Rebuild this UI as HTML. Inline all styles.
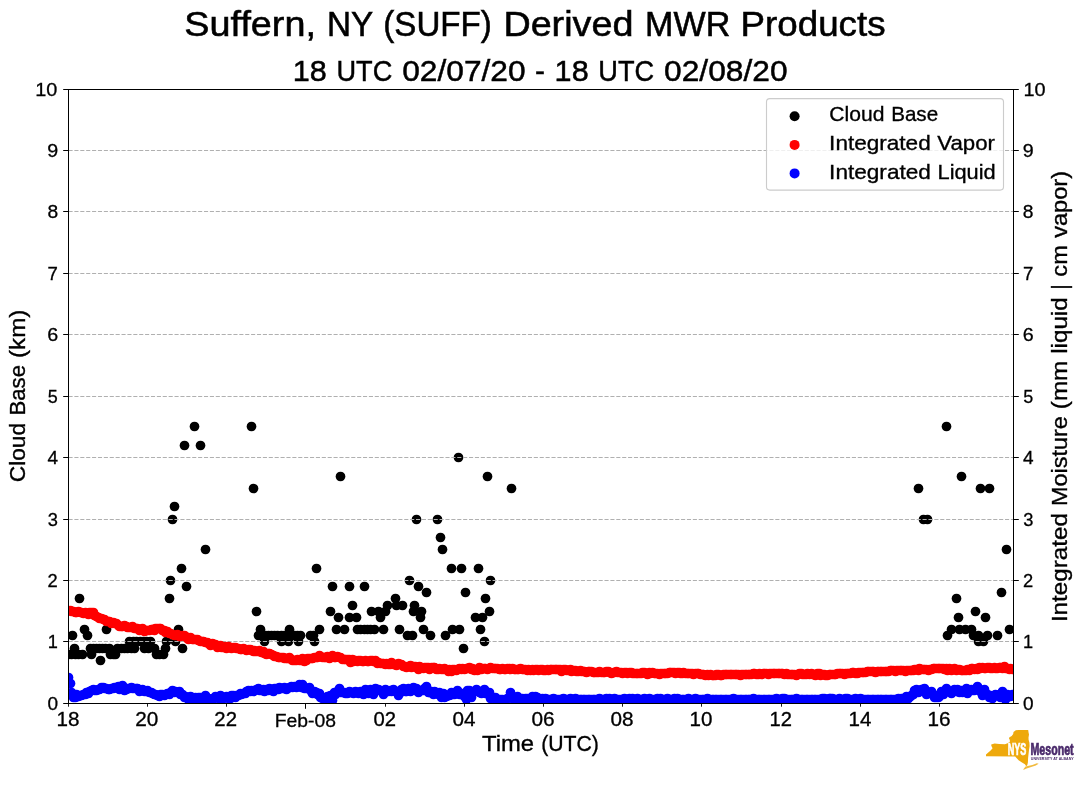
<!DOCTYPE html>
<html lang="en"><head><meta charset="utf-8"><title>Suffern, NY (SUFF) Derived MWR Products</title>
<style>html,body{margin:0;padding:0;background:#fff;}body{width:1089px;height:804px;overflow:hidden;font-family:"Liberation Sans",sans-serif;}svg{display:block;}text{font-family:"Liberation Sans",sans-serif;}</style>
</head><body>
<svg width="1089" height="804" viewBox="0 0 1089 804" style="will-change:transform">
<rect x="0" y="0" width="1089" height="804" fill="#fff"/>
<defs><clipPath id="ax"><rect x="68.5" y="89.5" width="945.0" height="614.0"/></clipPath></defs>
<g clip-path="url(#ax)">
<g fill="#000">
<circle cx="68.5" cy="654.5" r="4.85"/>
<circle cx="71.5" cy="654.5" r="4.85"/>
<circle cx="75.5" cy="654.5" r="4.85"/>
<circle cx="78.5" cy="654.5" r="4.85"/>
<circle cx="82.5" cy="654.5" r="4.85"/>
<circle cx="91.5" cy="654.5" r="4.85"/>
<circle cx="110.5" cy="654.5" r="4.85"/>
<circle cx="113.5" cy="654.5" r="4.85"/>
<circle cx="115.5" cy="654.5" r="4.85"/>
<circle cx="156.5" cy="654.5" r="4.85"/>
<circle cx="159.5" cy="654.5" r="4.85"/>
<circle cx="163.5" cy="654.5" r="4.85"/>
<circle cx="74.5" cy="648.5" r="4.85"/>
<circle cx="90.5" cy="648.5" r="4.85"/>
<circle cx="93.5" cy="648.5" r="4.85"/>
<circle cx="96.5" cy="648.5" r="4.85"/>
<circle cx="99.5" cy="648.5" r="4.85"/>
<circle cx="102.5" cy="648.5" r="4.85"/>
<circle cx="105.5" cy="648.5" r="4.85"/>
<circle cx="109.5" cy="648.5" r="4.85"/>
<circle cx="117.5" cy="648.5" r="4.85"/>
<circle cx="121.5" cy="648.5" r="4.85"/>
<circle cx="124.5" cy="648.5" r="4.85"/>
<circle cx="127.5" cy="648.5" r="4.85"/>
<circle cx="131.5" cy="648.5" r="4.85"/>
<circle cx="134.5" cy="648.5" r="4.85"/>
<circle cx="144.5" cy="648.5" r="4.85"/>
<circle cx="148.5" cy="648.5" r="4.85"/>
<circle cx="154.5" cy="648.5" r="4.85"/>
<circle cx="165.5" cy="648.5" r="4.85"/>
<circle cx="182.5" cy="648.5" r="4.85"/>
<circle cx="129.5" cy="641.5" r="4.85"/>
<circle cx="133.5" cy="641.5" r="4.85"/>
<circle cx="136.5" cy="641.5" r="4.85"/>
<circle cx="140.5" cy="641.5" r="4.85"/>
<circle cx="143.5" cy="641.5" r="4.85"/>
<circle cx="146.5" cy="641.5" r="4.85"/>
<circle cx="150.5" cy="641.5" r="4.85"/>
<circle cx="166.5" cy="641.5" r="4.85"/>
<circle cx="175.5" cy="641.5" r="4.85"/>
<circle cx="100.5" cy="660.5" r="4.85"/>
<circle cx="72.5" cy="635.5" r="4.85"/>
<circle cx="87.5" cy="635.5" r="4.85"/>
<circle cx="84.5" cy="629.5" r="4.85"/>
<circle cx="106.5" cy="629.5" r="4.85"/>
<circle cx="178.5" cy="629.5" r="4.85"/>
<circle cx="79.5" cy="598.5" r="4.85"/>
<circle cx="169.5" cy="598.5" r="4.85"/>
<circle cx="170.5" cy="580.5" r="4.85"/>
<circle cx="172.5" cy="519.5" r="4.85"/>
<circle cx="174.5" cy="506.5" r="4.85"/>
<circle cx="181.5" cy="568.5" r="4.85"/>
<circle cx="184.5" cy="445.5" r="4.85"/>
<circle cx="200.5" cy="445.5" r="4.85"/>
<circle cx="186.5" cy="586.5" r="4.85"/>
<circle cx="194.5" cy="426.5" r="4.85"/>
<circle cx="251.5" cy="426.5" r="4.85"/>
<circle cx="205.5" cy="549.5" r="4.85"/>
<circle cx="253.5" cy="488.5" r="4.85"/>
<circle cx="256.5" cy="611.5" r="4.85"/>
<circle cx="260.5" cy="629.5" r="4.85"/>
<circle cx="289.5" cy="629.5" r="4.85"/>
<circle cx="319.5" cy="629.5" r="4.85"/>
<circle cx="258.5" cy="635.5" r="4.85"/>
<circle cx="261.5" cy="635.5" r="4.85"/>
<circle cx="265.5" cy="635.5" r="4.85"/>
<circle cx="268.5" cy="635.5" r="4.85"/>
<circle cx="271.5" cy="635.5" r="4.85"/>
<circle cx="274.5" cy="635.5" r="4.85"/>
<circle cx="277.5" cy="635.5" r="4.85"/>
<circle cx="281.5" cy="635.5" r="4.85"/>
<circle cx="284.5" cy="635.5" r="4.85"/>
<circle cx="287.5" cy="635.5" r="4.85"/>
<circle cx="290.5" cy="635.5" r="4.85"/>
<circle cx="294.5" cy="635.5" r="4.85"/>
<circle cx="297.5" cy="635.5" r="4.85"/>
<circle cx="300.5" cy="635.5" r="4.85"/>
<circle cx="310.5" cy="635.5" r="4.85"/>
<circle cx="313.5" cy="635.5" r="4.85"/>
<circle cx="264.5" cy="641.5" r="4.85"/>
<circle cx="281.5" cy="641.5" r="4.85"/>
<circle cx="288.5" cy="641.5" r="4.85"/>
<circle cx="298.5" cy="641.5" r="4.85"/>
<circle cx="314.5" cy="641.5" r="4.85"/>
<circle cx="316.5" cy="568.5" r="4.85"/>
<circle cx="332.5" cy="586.5" r="4.85"/>
<circle cx="349.5" cy="586.5" r="4.85"/>
<circle cx="364.5" cy="586.5" r="4.85"/>
<circle cx="418.5" cy="586.5" r="4.85"/>
<circle cx="352.5" cy="605.5" r="4.85"/>
<circle cx="387.5" cy="605.5" r="4.85"/>
<circle cx="396.5" cy="605.5" r="4.85"/>
<circle cx="402.5" cy="605.5" r="4.85"/>
<circle cx="414.5" cy="605.5" r="4.85"/>
<circle cx="330.5" cy="611.5" r="4.85"/>
<circle cx="371.5" cy="611.5" r="4.85"/>
<circle cx="378.5" cy="611.5" r="4.85"/>
<circle cx="385.5" cy="611.5" r="4.85"/>
<circle cx="413.5" cy="611.5" r="4.85"/>
<circle cx="421.5" cy="611.5" r="4.85"/>
<circle cx="489.5" cy="611.5" r="4.85"/>
<circle cx="338.5" cy="617.5" r="4.85"/>
<circle cx="349.5" cy="617.5" r="4.85"/>
<circle cx="356.5" cy="617.5" r="4.85"/>
<circle cx="380.5" cy="617.5" r="4.85"/>
<circle cx="420.5" cy="617.5" r="4.85"/>
<circle cx="475.5" cy="617.5" r="4.85"/>
<circle cx="482.5" cy="617.5" r="4.85"/>
<circle cx="336.5" cy="629.5" r="4.85"/>
<circle cx="344.5" cy="629.5" r="4.85"/>
<circle cx="383.5" cy="629.5" r="4.85"/>
<circle cx="399.5" cy="629.5" r="4.85"/>
<circle cx="423.5" cy="629.5" r="4.85"/>
<circle cx="452.5" cy="629.5" r="4.85"/>
<circle cx="459.5" cy="629.5" r="4.85"/>
<circle cx="480.5" cy="629.5" r="4.85"/>
<circle cx="357.5" cy="629.5" r="4.85"/>
<circle cx="360.5" cy="629.5" r="4.85"/>
<circle cx="364.5" cy="629.5" r="4.85"/>
<circle cx="367.5" cy="629.5" r="4.85"/>
<circle cx="370.5" cy="629.5" r="4.85"/>
<circle cx="374.5" cy="629.5" r="4.85"/>
<circle cx="407.5" cy="635.5" r="4.85"/>
<circle cx="412.5" cy="635.5" r="4.85"/>
<circle cx="430.5" cy="635.5" r="4.85"/>
<circle cx="445.5" cy="635.5" r="4.85"/>
<circle cx="484.5" cy="641.5" r="4.85"/>
<circle cx="463.5" cy="648.5" r="4.85"/>
<circle cx="395.5" cy="598.5" r="4.85"/>
<circle cx="485.5" cy="598.5" r="4.85"/>
<circle cx="426.5" cy="592.5" r="4.85"/>
<circle cx="465.5" cy="592.5" r="4.85"/>
<circle cx="409.5" cy="580.5" r="4.85"/>
<circle cx="490.5" cy="580.5" r="4.85"/>
<circle cx="451.5" cy="568.5" r="4.85"/>
<circle cx="461.5" cy="568.5" r="4.85"/>
<circle cx="478.5" cy="568.5" r="4.85"/>
<circle cx="442.5" cy="549.5" r="4.85"/>
<circle cx="440.5" cy="537.5" r="4.85"/>
<circle cx="416.5" cy="519.5" r="4.85"/>
<circle cx="437.5" cy="519.5" r="4.85"/>
<circle cx="340.5" cy="476.5" r="4.85"/>
<circle cx="487.5" cy="476.5" r="4.85"/>
<circle cx="458.5" cy="457.5" r="4.85"/>
<circle cx="511.5" cy="488.5" r="4.85"/>
<circle cx="946.5" cy="426.5" r="4.85"/>
<circle cx="961.5" cy="476.5" r="4.85"/>
<circle cx="918.5" cy="488.5" r="4.85"/>
<circle cx="980.5" cy="488.5" r="4.85"/>
<circle cx="989.5" cy="488.5" r="4.85"/>
<circle cx="923.5" cy="519.5" r="4.85"/>
<circle cx="927.5" cy="519.5" r="4.85"/>
<circle cx="1006.5" cy="549.5" r="4.85"/>
<circle cx="1001.5" cy="592.5" r="4.85"/>
<circle cx="956.5" cy="598.5" r="4.85"/>
<circle cx="975.5" cy="611.5" r="4.85"/>
<circle cx="958.5" cy="617.5" r="4.85"/>
<circle cx="985.5" cy="617.5" r="4.85"/>
<circle cx="951.5" cy="629.5" r="4.85"/>
<circle cx="959.5" cy="629.5" r="4.85"/>
<circle cx="965.5" cy="629.5" r="4.85"/>
<circle cx="971.5" cy="629.5" r="4.85"/>
<circle cx="1009.5" cy="629.5" r="4.85"/>
<circle cx="947.5" cy="635.5" r="4.85"/>
<circle cx="973.5" cy="635.5" r="4.85"/>
<circle cx="978.5" cy="635.5" r="4.85"/>
<circle cx="987.5" cy="635.5" r="4.85"/>
<circle cx="997.5" cy="635.5" r="4.85"/>
<circle cx="978.5" cy="641.5" r="4.85"/>
<circle cx="983.5" cy="641.5" r="4.85"/>
</g>
<g stroke="#b0b0b0" stroke-width="1" stroke-dasharray="4.11 1.78" fill="none">
<path d="M68.5 641.50H1013.5"/>
<path d="M68.5 580.50H1013.5"/>
<path d="M68.5 519.50H1013.5"/>
<path d="M68.5 457.50H1013.5"/>
<path d="M68.5 396.50H1013.5"/>
<path d="M68.5 334.50H1013.5"/>
<path d="M68.5 273.50H1013.5"/>
<path d="M68.5 211.50H1013.5"/>
<path d="M68.5 150.50H1013.5"/>
</g>
<g fill="#f00">
<circle cx="68.5" cy="610.5" r="4.85"/>
<circle cx="70.5" cy="610.5" r="4.85"/>
<circle cx="71.5" cy="611.5" r="4.85"/>
<circle cx="73.5" cy="611.5" r="4.85"/>
<circle cx="75.5" cy="612.5" r="4.85"/>
<circle cx="76.5" cy="612.5" r="4.85"/>
<circle cx="78.5" cy="611.5" r="4.85"/>
<circle cx="80.5" cy="612.5" r="4.85"/>
<circle cx="81.5" cy="612.5" r="4.85"/>
<circle cx="83.5" cy="613.5" r="4.85"/>
<circle cx="85.5" cy="612.5" r="4.85"/>
<circle cx="86.5" cy="613.5" r="4.85"/>
<circle cx="88.5" cy="614.5" r="4.85"/>
<circle cx="89.5" cy="612.5" r="4.85"/>
<circle cx="91.5" cy="612.5" r="4.85"/>
<circle cx="93.5" cy="612.5" r="4.85"/>
<circle cx="94.5" cy="615.5" r="4.85"/>
<circle cx="96.5" cy="616.5" r="4.85"/>
<circle cx="98.5" cy="617.5" r="4.85"/>
<circle cx="99.5" cy="618.5" r="4.85"/>
<circle cx="101.5" cy="618.5" r="4.85"/>
<circle cx="103.5" cy="619.5" r="4.85"/>
<circle cx="104.5" cy="619.5" r="4.85"/>
<circle cx="106.5" cy="621.5" r="4.85"/>
<circle cx="108.5" cy="621.5" r="4.85"/>
<circle cx="109.5" cy="621.5" r="4.85"/>
<circle cx="111.5" cy="623.5" r="4.85"/>
<circle cx="113.5" cy="622.5" r="4.85"/>
<circle cx="114.5" cy="623.5" r="4.85"/>
<circle cx="116.5" cy="623.5" r="4.85"/>
<circle cx="118.5" cy="625.5" r="4.85"/>
<circle cx="119.5" cy="626.5" r="4.85"/>
<circle cx="121.5" cy="626.5" r="4.85"/>
<circle cx="122.5" cy="626.5" r="4.85"/>
<circle cx="124.5" cy="625.5" r="4.85"/>
<circle cx="126.5" cy="626.5" r="4.85"/>
<circle cx="127.5" cy="627.5" r="4.85"/>
<circle cx="129.5" cy="627.5" r="4.85"/>
<circle cx="131.5" cy="627.5" r="4.85"/>
<circle cx="132.5" cy="626.5" r="4.85"/>
<circle cx="134.5" cy="628.5" r="4.85"/>
<circle cx="136.5" cy="628.5" r="4.85"/>
<circle cx="137.5" cy="628.5" r="4.85"/>
<circle cx="139.5" cy="630.5" r="4.85"/>
<circle cx="141.5" cy="629.5" r="4.85"/>
<circle cx="142.5" cy="628.5" r="4.85"/>
<circle cx="144.5" cy="631.5" r="4.85"/>
<circle cx="146.5" cy="630.5" r="4.85"/>
<circle cx="147.5" cy="630.5" r="4.85"/>
<circle cx="149.5" cy="630.5" r="4.85"/>
<circle cx="151.5" cy="629.5" r="4.85"/>
<circle cx="152.5" cy="629.5" r="4.85"/>
<circle cx="154.5" cy="630.5" r="4.85"/>
<circle cx="155.5" cy="628.5" r="4.85"/>
<circle cx="157.5" cy="628.5" r="4.85"/>
<circle cx="159.5" cy="628.5" r="4.85"/>
<circle cx="160.5" cy="628.5" r="4.85"/>
<circle cx="162.5" cy="630.5" r="4.85"/>
<circle cx="164.5" cy="630.5" r="4.85"/>
<circle cx="165.5" cy="632.5" r="4.85"/>
<circle cx="167.5" cy="631.5" r="4.85"/>
<circle cx="169.5" cy="633.5" r="4.85"/>
<circle cx="170.5" cy="633.5" r="4.85"/>
<circle cx="172.5" cy="634.5" r="4.85"/>
<circle cx="174.5" cy="635.5" r="4.85"/>
<circle cx="175.5" cy="635.5" r="4.85"/>
<circle cx="177.5" cy="634.5" r="4.85"/>
<circle cx="179.5" cy="636.5" r="4.85"/>
<circle cx="180.5" cy="636.5" r="4.85"/>
<circle cx="182.5" cy="635.5" r="4.85"/>
<circle cx="184.5" cy="635.5" r="4.85"/>
<circle cx="185.5" cy="636.5" r="4.85"/>
<circle cx="187.5" cy="638.5" r="4.85"/>
<circle cx="188.5" cy="639.5" r="4.85"/>
<circle cx="190.5" cy="637.5" r="4.85"/>
<circle cx="192.5" cy="639.5" r="4.85"/>
<circle cx="193.5" cy="639.5" r="4.85"/>
<circle cx="195.5" cy="639.5" r="4.85"/>
<circle cx="197.5" cy="639.5" r="4.85"/>
<circle cx="198.5" cy="640.5" r="4.85"/>
<circle cx="200.5" cy="641.5" r="4.85"/>
<circle cx="202.5" cy="641.5" r="4.85"/>
<circle cx="203.5" cy="641.5" r="4.85"/>
<circle cx="205.5" cy="642.5" r="4.85"/>
<circle cx="207.5" cy="642.5" r="4.85"/>
<circle cx="208.5" cy="643.5" r="4.85"/>
<circle cx="210.5" cy="645.5" r="4.85"/>
<circle cx="212.5" cy="643.5" r="4.85"/>
<circle cx="213.5" cy="644.5" r="4.85"/>
<circle cx="215.5" cy="644.5" r="4.85"/>
<circle cx="217.5" cy="647.5" r="4.85"/>
<circle cx="218.5" cy="646.5" r="4.85"/>
<circle cx="220.5" cy="645.5" r="4.85"/>
<circle cx="221.5" cy="647.5" r="4.85"/>
<circle cx="223.5" cy="647.5" r="4.85"/>
<circle cx="225.5" cy="646.5" r="4.85"/>
<circle cx="226.5" cy="648.5" r="4.85"/>
<circle cx="228.5" cy="646.5" r="4.85"/>
<circle cx="230.5" cy="647.5" r="4.85"/>
<circle cx="231.5" cy="648.5" r="4.85"/>
<circle cx="233.5" cy="647.5" r="4.85"/>
<circle cx="235.5" cy="647.5" r="4.85"/>
<circle cx="236.5" cy="648.5" r="4.85"/>
<circle cx="238.5" cy="648.5" r="4.85"/>
<circle cx="240.5" cy="649.5" r="4.85"/>
<circle cx="241.5" cy="649.5" r="4.85"/>
<circle cx="243.5" cy="648.5" r="4.85"/>
<circle cx="245.5" cy="649.5" r="4.85"/>
<circle cx="246.5" cy="650.5" r="4.85"/>
<circle cx="248.5" cy="649.5" r="4.85"/>
<circle cx="250.5" cy="649.5" r="4.85"/>
<circle cx="251.5" cy="650.5" r="4.85"/>
<circle cx="253.5" cy="651.5" r="4.85"/>
<circle cx="254.5" cy="650.5" r="4.85"/>
<circle cx="256.5" cy="651.5" r="4.85"/>
<circle cx="258.5" cy="651.5" r="4.85"/>
<circle cx="259.5" cy="650.5" r="4.85"/>
<circle cx="261.5" cy="652.5" r="4.85"/>
<circle cx="263.5" cy="651.5" r="4.85"/>
<circle cx="264.5" cy="653.5" r="4.85"/>
<circle cx="266.5" cy="654.5" r="4.85"/>
<circle cx="268.5" cy="653.5" r="4.85"/>
<circle cx="269.5" cy="653.5" r="4.85"/>
<circle cx="271.5" cy="654.5" r="4.85"/>
<circle cx="273.5" cy="655.5" r="4.85"/>
<circle cx="274.5" cy="656.5" r="4.85"/>
<circle cx="276.5" cy="656.5" r="4.85"/>
<circle cx="278.5" cy="657.5" r="4.85"/>
<circle cx="279.5" cy="657.5" r="4.85"/>
<circle cx="281.5" cy="657.5" r="4.85"/>
<circle cx="283.5" cy="657.5" r="4.85"/>
<circle cx="284.5" cy="658.5" r="4.85"/>
<circle cx="286.5" cy="658.5" r="4.85"/>
<circle cx="287.5" cy="658.5" r="4.85"/>
<circle cx="289.5" cy="657.5" r="4.85"/>
<circle cx="291.5" cy="659.5" r="4.85"/>
<circle cx="292.5" cy="660.5" r="4.85"/>
<circle cx="294.5" cy="660.5" r="4.85"/>
<circle cx="296.5" cy="660.5" r="4.85"/>
<circle cx="297.5" cy="659.5" r="4.85"/>
<circle cx="299.5" cy="660.5" r="4.85"/>
<circle cx="301.5" cy="660.5" r="4.85"/>
<circle cx="302.5" cy="658.5" r="4.85"/>
<circle cx="304.5" cy="661.5" r="4.85"/>
<circle cx="306.5" cy="660.5" r="4.85"/>
<circle cx="307.5" cy="658.5" r="4.85"/>
<circle cx="309.5" cy="658.5" r="4.85"/>
<circle cx="311.5" cy="658.5" r="4.85"/>
<circle cx="312.5" cy="658.5" r="4.85"/>
<circle cx="314.5" cy="657.5" r="4.85"/>
<circle cx="316.5" cy="657.5" r="4.85"/>
<circle cx="317.5" cy="657.5" r="4.85"/>
<circle cx="319.5" cy="655.5" r="4.85"/>
<circle cx="320.5" cy="656.5" r="4.85"/>
<circle cx="322.5" cy="657.5" r="4.85"/>
<circle cx="324.5" cy="657.5" r="4.85"/>
<circle cx="325.5" cy="657.5" r="4.85"/>
<circle cx="327.5" cy="656.5" r="4.85"/>
<circle cx="329.5" cy="658.5" r="4.85"/>
<circle cx="330.5" cy="657.5" r="4.85"/>
<circle cx="332.5" cy="655.5" r="4.85"/>
<circle cx="334.5" cy="657.5" r="4.85"/>
<circle cx="335.5" cy="657.5" r="4.85"/>
<circle cx="337.5" cy="656.5" r="4.85"/>
<circle cx="339.5" cy="657.5" r="4.85"/>
<circle cx="340.5" cy="657.5" r="4.85"/>
<circle cx="342.5" cy="659.5" r="4.85"/>
<circle cx="344.5" cy="659.5" r="4.85"/>
<circle cx="345.5" cy="659.5" r="4.85"/>
<circle cx="347.5" cy="659.5" r="4.85"/>
<circle cx="349.5" cy="659.5" r="4.85"/>
<circle cx="350.5" cy="662.5" r="4.85"/>
<circle cx="352.5" cy="659.5" r="4.85"/>
<circle cx="353.5" cy="661.5" r="4.85"/>
<circle cx="355.5" cy="660.5" r="4.85"/>
<circle cx="357.5" cy="661.5" r="4.85"/>
<circle cx="358.5" cy="660.5" r="4.85"/>
<circle cx="360.5" cy="660.5" r="4.85"/>
<circle cx="362.5" cy="661.5" r="4.85"/>
<circle cx="363.5" cy="661.5" r="4.85"/>
<circle cx="365.5" cy="660.5" r="4.85"/>
<circle cx="367.5" cy="661.5" r="4.85"/>
<circle cx="368.5" cy="661.5" r="4.85"/>
<circle cx="370.5" cy="660.5" r="4.85"/>
<circle cx="372.5" cy="660.5" r="4.85"/>
<circle cx="373.5" cy="661.5" r="4.85"/>
<circle cx="375.5" cy="660.5" r="4.85"/>
<circle cx="377.5" cy="663.5" r="4.85"/>
<circle cx="378.5" cy="662.5" r="4.85"/>
<circle cx="380.5" cy="663.5" r="4.85"/>
<circle cx="382.5" cy="663.5" r="4.85"/>
<circle cx="383.5" cy="663.5" r="4.85"/>
<circle cx="385.5" cy="664.5" r="4.85"/>
<circle cx="386.5" cy="663.5" r="4.85"/>
<circle cx="388.5" cy="664.5" r="4.85"/>
<circle cx="390.5" cy="664.5" r="4.85"/>
<circle cx="391.5" cy="662.5" r="4.85"/>
<circle cx="393.5" cy="664.5" r="4.85"/>
<circle cx="395.5" cy="664.5" r="4.85"/>
<circle cx="396.5" cy="665.5" r="4.85"/>
<circle cx="398.5" cy="663.5" r="4.85"/>
<circle cx="400.5" cy="664.5" r="4.85"/>
<circle cx="401.5" cy="664.5" r="4.85"/>
<circle cx="403.5" cy="666.5" r="4.85"/>
<circle cx="405.5" cy="666.5" r="4.85"/>
<circle cx="406.5" cy="667.5" r="4.85"/>
<circle cx="408.5" cy="666.5" r="4.85"/>
<circle cx="410.5" cy="665.5" r="4.85"/>
<circle cx="411.5" cy="667.5" r="4.85"/>
<circle cx="413.5" cy="666.5" r="4.85"/>
<circle cx="415.5" cy="666.5" r="4.85"/>
<circle cx="416.5" cy="667.5" r="4.85"/>
<circle cx="418.5" cy="669.5" r="4.85"/>
<circle cx="419.5" cy="666.5" r="4.85"/>
<circle cx="421.5" cy="667.5" r="4.85"/>
<circle cx="423.5" cy="668.5" r="4.85"/>
<circle cx="424.5" cy="667.5" r="4.85"/>
<circle cx="426.5" cy="667.5" r="4.85"/>
<circle cx="428.5" cy="667.5" r="4.85"/>
<circle cx="429.5" cy="669.5" r="4.85"/>
<circle cx="431.5" cy="667.5" r="4.85"/>
<circle cx="433.5" cy="667.5" r="4.85"/>
<circle cx="434.5" cy="667.5" r="4.85"/>
<circle cx="436.5" cy="669.5" r="4.85"/>
<circle cx="438.5" cy="669.5" r="4.85"/>
<circle cx="439.5" cy="668.5" r="4.85"/>
<circle cx="441.5" cy="669.5" r="4.85"/>
<circle cx="443.5" cy="669.5" r="4.85"/>
<circle cx="444.5" cy="668.5" r="4.85"/>
<circle cx="446.5" cy="669.5" r="4.85"/>
<circle cx="448.5" cy="671.5" r="4.85"/>
<circle cx="449.5" cy="669.5" r="4.85"/>
<circle cx="451.5" cy="671.5" r="4.85"/>
<circle cx="452.5" cy="669.5" r="4.85"/>
<circle cx="454.5" cy="669.5" r="4.85"/>
<circle cx="456.5" cy="670.5" r="4.85"/>
<circle cx="457.5" cy="669.5" r="4.85"/>
<circle cx="459.5" cy="668.5" r="4.85"/>
<circle cx="461.5" cy="669.5" r="4.85"/>
<circle cx="462.5" cy="668.5" r="4.85"/>
<circle cx="464.5" cy="669.5" r="4.85"/>
<circle cx="466.5" cy="668.5" r="4.85"/>
<circle cx="467.5" cy="668.5" r="4.85"/>
<circle cx="469.5" cy="667.5" r="4.85"/>
<circle cx="471.5" cy="669.5" r="4.85"/>
<circle cx="472.5" cy="668.5" r="4.85"/>
<circle cx="474.5" cy="670.5" r="4.85"/>
<circle cx="476.5" cy="669.5" r="4.85"/>
<circle cx="477.5" cy="670.5" r="4.85"/>
<circle cx="479.5" cy="667.5" r="4.85"/>
<circle cx="481.5" cy="669.5" r="4.85"/>
<circle cx="482.5" cy="668.5" r="4.85"/>
<circle cx="484.5" cy="668.5" r="4.85"/>
<circle cx="485.5" cy="668.5" r="4.85"/>
<circle cx="487.5" cy="669.5" r="4.85"/>
<circle cx="489.5" cy="668.5" r="4.85"/>
<circle cx="490.5" cy="667.5" r="4.85"/>
<circle cx="492.5" cy="668.5" r="4.85"/>
<circle cx="494.5" cy="668.5" r="4.85"/>
<circle cx="495.5" cy="668.5" r="4.85"/>
<circle cx="497.5" cy="668.5" r="4.85"/>
<circle cx="499.5" cy="669.5" r="4.85"/>
<circle cx="500.5" cy="669.5" r="4.85"/>
<circle cx="502.5" cy="668.5" r="4.85"/>
<circle cx="504.5" cy="669.5" r="4.85"/>
<circle cx="505.5" cy="669.5" r="4.85"/>
<circle cx="507.5" cy="668.5" r="4.85"/>
<circle cx="509.5" cy="668.5" r="4.85"/>
<circle cx="510.5" cy="669.5" r="4.85"/>
<circle cx="512.5" cy="668.5" r="4.85"/>
<circle cx="514.5" cy="669.5" r="4.85"/>
<circle cx="515.5" cy="669.5" r="4.85"/>
<circle cx="517.5" cy="669.5" r="4.85"/>
<circle cx="518.5" cy="669.5" r="4.85"/>
<circle cx="520.5" cy="668.5" r="4.85"/>
<circle cx="522.5" cy="669.5" r="4.85"/>
<circle cx="523.5" cy="669.5" r="4.85"/>
<circle cx="525.5" cy="669.5" r="4.85"/>
<circle cx="527.5" cy="670.5" r="4.85"/>
<circle cx="528.5" cy="669.5" r="4.85"/>
<circle cx="530.5" cy="670.5" r="4.85"/>
<circle cx="532.5" cy="669.5" r="4.85"/>
<circle cx="533.5" cy="670.5" r="4.85"/>
<circle cx="535.5" cy="669.5" r="4.85"/>
<circle cx="537.5" cy="669.5" r="4.85"/>
<circle cx="538.5" cy="670.5" r="4.85"/>
<circle cx="540.5" cy="669.5" r="4.85"/>
<circle cx="542.5" cy="669.5" r="4.85"/>
<circle cx="543.5" cy="670.5" r="4.85"/>
<circle cx="545.5" cy="670.5" r="4.85"/>
<circle cx="547.5" cy="669.5" r="4.85"/>
<circle cx="548.5" cy="670.5" r="4.85"/>
<circle cx="550.5" cy="669.5" r="4.85"/>
<circle cx="551.5" cy="669.5" r="4.85"/>
<circle cx="553.5" cy="669.5" r="4.85"/>
<circle cx="555.5" cy="669.5" r="4.85"/>
<circle cx="556.5" cy="669.5" r="4.85"/>
<circle cx="558.5" cy="669.5" r="4.85"/>
<circle cx="560.5" cy="669.5" r="4.85"/>
<circle cx="561.5" cy="671.5" r="4.85"/>
<circle cx="563.5" cy="669.5" r="4.85"/>
<circle cx="565.5" cy="669.5" r="4.85"/>
<circle cx="566.5" cy="670.5" r="4.85"/>
<circle cx="568.5" cy="670.5" r="4.85"/>
<circle cx="570.5" cy="669.5" r="4.85"/>
<circle cx="571.5" cy="671.5" r="4.85"/>
<circle cx="573.5" cy="670.5" r="4.85"/>
<circle cx="575.5" cy="670.5" r="4.85"/>
<circle cx="576.5" cy="671.5" r="4.85"/>
<circle cx="578.5" cy="671.5" r="4.85"/>
<circle cx="580.5" cy="670.5" r="4.85"/>
<circle cx="581.5" cy="671.5" r="4.85"/>
<circle cx="583.5" cy="671.5" r="4.85"/>
<circle cx="584.5" cy="671.5" r="4.85"/>
<circle cx="586.5" cy="672.5" r="4.85"/>
<circle cx="588.5" cy="671.5" r="4.85"/>
<circle cx="589.5" cy="671.5" r="4.85"/>
<circle cx="591.5" cy="671.5" r="4.85"/>
<circle cx="593.5" cy="672.5" r="4.85"/>
<circle cx="594.5" cy="672.5" r="4.85"/>
<circle cx="596.5" cy="672.5" r="4.85"/>
<circle cx="598.5" cy="672.5" r="4.85"/>
<circle cx="599.5" cy="671.5" r="4.85"/>
<circle cx="601.5" cy="672.5" r="4.85"/>
<circle cx="603.5" cy="672.5" r="4.85"/>
<circle cx="604.5" cy="672.5" r="4.85"/>
<circle cx="606.5" cy="671.5" r="4.85"/>
<circle cx="608.5" cy="671.5" r="4.85"/>
<circle cx="609.5" cy="672.5" r="4.85"/>
<circle cx="611.5" cy="673.5" r="4.85"/>
<circle cx="613.5" cy="672.5" r="4.85"/>
<circle cx="614.5" cy="672.5" r="4.85"/>
<circle cx="616.5" cy="671.5" r="4.85"/>
<circle cx="617.5" cy="672.5" r="4.85"/>
<circle cx="619.5" cy="672.5" r="4.85"/>
<circle cx="621.5" cy="672.5" r="4.85"/>
<circle cx="622.5" cy="673.5" r="4.85"/>
<circle cx="624.5" cy="672.5" r="4.85"/>
<circle cx="626.5" cy="672.5" r="4.85"/>
<circle cx="627.5" cy="673.5" r="4.85"/>
<circle cx="629.5" cy="672.5" r="4.85"/>
<circle cx="631.5" cy="672.5" r="4.85"/>
<circle cx="632.5" cy="673.5" r="4.85"/>
<circle cx="634.5" cy="673.5" r="4.85"/>
<circle cx="636.5" cy="673.5" r="4.85"/>
<circle cx="637.5" cy="673.5" r="4.85"/>
<circle cx="639.5" cy="673.5" r="4.85"/>
<circle cx="641.5" cy="673.5" r="4.85"/>
<circle cx="642.5" cy="672.5" r="4.85"/>
<circle cx="644.5" cy="672.5" r="4.85"/>
<circle cx="646.5" cy="673.5" r="4.85"/>
<circle cx="647.5" cy="674.5" r="4.85"/>
<circle cx="649.5" cy="672.5" r="4.85"/>
<circle cx="650.5" cy="673.5" r="4.85"/>
<circle cx="652.5" cy="672.5" r="4.85"/>
<circle cx="654.5" cy="673.5" r="4.85"/>
<circle cx="655.5" cy="673.5" r="4.85"/>
<circle cx="657.5" cy="673.5" r="4.85"/>
<circle cx="659.5" cy="674.5" r="4.85"/>
<circle cx="660.5" cy="673.5" r="4.85"/>
<circle cx="662.5" cy="673.5" r="4.85"/>
<circle cx="664.5" cy="673.5" r="4.85"/>
<circle cx="665.5" cy="673.5" r="4.85"/>
<circle cx="667.5" cy="673.5" r="4.85"/>
<circle cx="669.5" cy="672.5" r="4.85"/>
<circle cx="670.5" cy="672.5" r="4.85"/>
<circle cx="672.5" cy="672.5" r="4.85"/>
<circle cx="674.5" cy="672.5" r="4.85"/>
<circle cx="675.5" cy="673.5" r="4.85"/>
<circle cx="677.5" cy="672.5" r="4.85"/>
<circle cx="679.5" cy="672.5" r="4.85"/>
<circle cx="680.5" cy="673.5" r="4.85"/>
<circle cx="682.5" cy="673.5" r="4.85"/>
<circle cx="683.5" cy="672.5" r="4.85"/>
<circle cx="685.5" cy="673.5" r="4.85"/>
<circle cx="687.5" cy="673.5" r="4.85"/>
<circle cx="688.5" cy="673.5" r="4.85"/>
<circle cx="690.5" cy="673.5" r="4.85"/>
<circle cx="692.5" cy="673.5" r="4.85"/>
<circle cx="693.5" cy="674.5" r="4.85"/>
<circle cx="695.5" cy="673.5" r="4.85"/>
<circle cx="697.5" cy="673.5" r="4.85"/>
<circle cx="698.5" cy="673.5" r="4.85"/>
<circle cx="700.5" cy="674.5" r="4.85"/>
<circle cx="702.5" cy="674.5" r="4.85"/>
<circle cx="703.5" cy="674.5" r="4.85"/>
<circle cx="705.5" cy="675.5" r="4.85"/>
<circle cx="707.5" cy="674.5" r="4.85"/>
<circle cx="708.5" cy="675.5" r="4.85"/>
<circle cx="710.5" cy="674.5" r="4.85"/>
<circle cx="712.5" cy="675.5" r="4.85"/>
<circle cx="713.5" cy="675.5" r="4.85"/>
<circle cx="715.5" cy="675.5" r="4.85"/>
<circle cx="716.5" cy="674.5" r="4.85"/>
<circle cx="718.5" cy="674.5" r="4.85"/>
<circle cx="720.5" cy="675.5" r="4.85"/>
<circle cx="721.5" cy="675.5" r="4.85"/>
<circle cx="723.5" cy="674.5" r="4.85"/>
<circle cx="725.5" cy="674.5" r="4.85"/>
<circle cx="726.5" cy="674.5" r="4.85"/>
<circle cx="728.5" cy="674.5" r="4.85"/>
<circle cx="730.5" cy="674.5" r="4.85"/>
<circle cx="731.5" cy="674.5" r="4.85"/>
<circle cx="733.5" cy="674.5" r="4.85"/>
<circle cx="735.5" cy="674.5" r="4.85"/>
<circle cx="736.5" cy="674.5" r="4.85"/>
<circle cx="738.5" cy="674.5" r="4.85"/>
<circle cx="740.5" cy="675.5" r="4.85"/>
<circle cx="741.5" cy="674.5" r="4.85"/>
<circle cx="743.5" cy="674.5" r="4.85"/>
<circle cx="745.5" cy="674.5" r="4.85"/>
<circle cx="746.5" cy="674.5" r="4.85"/>
<circle cx="748.5" cy="674.5" r="4.85"/>
<circle cx="749.5" cy="674.5" r="4.85"/>
<circle cx="751.5" cy="674.5" r="4.85"/>
<circle cx="753.5" cy="673.5" r="4.85"/>
<circle cx="754.5" cy="673.5" r="4.85"/>
<circle cx="756.5" cy="674.5" r="4.85"/>
<circle cx="758.5" cy="674.5" r="4.85"/>
<circle cx="759.5" cy="673.5" r="4.85"/>
<circle cx="761.5" cy="674.5" r="4.85"/>
<circle cx="763.5" cy="673.5" r="4.85"/>
<circle cx="764.5" cy="673.5" r="4.85"/>
<circle cx="766.5" cy="673.5" r="4.85"/>
<circle cx="768.5" cy="674.5" r="4.85"/>
<circle cx="769.5" cy="673.5" r="4.85"/>
<circle cx="771.5" cy="673.5" r="4.85"/>
<circle cx="773.5" cy="673.5" r="4.85"/>
<circle cx="774.5" cy="673.5" r="4.85"/>
<circle cx="776.5" cy="673.5" r="4.85"/>
<circle cx="778.5" cy="673.5" r="4.85"/>
<circle cx="779.5" cy="673.5" r="4.85"/>
<circle cx="781.5" cy="673.5" r="4.85"/>
<circle cx="782.5" cy="673.5" r="4.85"/>
<circle cx="784.5" cy="674.5" r="4.85"/>
<circle cx="786.5" cy="673.5" r="4.85"/>
<circle cx="787.5" cy="674.5" r="4.85"/>
<circle cx="789.5" cy="674.5" r="4.85"/>
<circle cx="791.5" cy="674.5" r="4.85"/>
<circle cx="792.5" cy="674.5" r="4.85"/>
<circle cx="794.5" cy="674.5" r="4.85"/>
<circle cx="796.5" cy="675.5" r="4.85"/>
<circle cx="797.5" cy="674.5" r="4.85"/>
<circle cx="799.5" cy="673.5" r="4.85"/>
<circle cx="801.5" cy="673.5" r="4.85"/>
<circle cx="802.5" cy="674.5" r="4.85"/>
<circle cx="804.5" cy="674.5" r="4.85"/>
<circle cx="806.5" cy="674.5" r="4.85"/>
<circle cx="807.5" cy="673.5" r="4.85"/>
<circle cx="809.5" cy="674.5" r="4.85"/>
<circle cx="811.5" cy="673.5" r="4.85"/>
<circle cx="812.5" cy="674.5" r="4.85"/>
<circle cx="814.5" cy="674.5" r="4.85"/>
<circle cx="815.5" cy="675.5" r="4.85"/>
<circle cx="817.5" cy="673.5" r="4.85"/>
<circle cx="819.5" cy="673.5" r="4.85"/>
<circle cx="820.5" cy="675.5" r="4.85"/>
<circle cx="822.5" cy="674.5" r="4.85"/>
<circle cx="824.5" cy="674.5" r="4.85"/>
<circle cx="825.5" cy="675.5" r="4.85"/>
<circle cx="827.5" cy="675.5" r="4.85"/>
<circle cx="829.5" cy="674.5" r="4.85"/>
<circle cx="830.5" cy="674.5" r="4.85"/>
<circle cx="832.5" cy="674.5" r="4.85"/>
<circle cx="834.5" cy="674.5" r="4.85"/>
<circle cx="835.5" cy="674.5" r="4.85"/>
<circle cx="837.5" cy="673.5" r="4.85"/>
<circle cx="839.5" cy="673.5" r="4.85"/>
<circle cx="840.5" cy="673.5" r="4.85"/>
<circle cx="842.5" cy="673.5" r="4.85"/>
<circle cx="844.5" cy="674.5" r="4.85"/>
<circle cx="845.5" cy="673.5" r="4.85"/>
<circle cx="847.5" cy="673.5" r="4.85"/>
<circle cx="848.5" cy="673.5" r="4.85"/>
<circle cx="850.5" cy="673.5" r="4.85"/>
<circle cx="852.5" cy="672.5" r="4.85"/>
<circle cx="853.5" cy="672.5" r="4.85"/>
<circle cx="855.5" cy="673.5" r="4.85"/>
<circle cx="857.5" cy="673.5" r="4.85"/>
<circle cx="858.5" cy="672.5" r="4.85"/>
<circle cx="860.5" cy="672.5" r="4.85"/>
<circle cx="862.5" cy="672.5" r="4.85"/>
<circle cx="863.5" cy="672.5" r="4.85"/>
<circle cx="865.5" cy="672.5" r="4.85"/>
<circle cx="867.5" cy="671.5" r="4.85"/>
<circle cx="868.5" cy="671.5" r="4.85"/>
<circle cx="870.5" cy="671.5" r="4.85"/>
<circle cx="872.5" cy="671.5" r="4.85"/>
<circle cx="873.5" cy="671.5" r="4.85"/>
<circle cx="875.5" cy="672.5" r="4.85"/>
<circle cx="877.5" cy="671.5" r="4.85"/>
<circle cx="878.5" cy="671.5" r="4.85"/>
<circle cx="880.5" cy="671.5" r="4.85"/>
<circle cx="881.5" cy="671.5" r="4.85"/>
<circle cx="883.5" cy="671.5" r="4.85"/>
<circle cx="885.5" cy="671.5" r="4.85"/>
<circle cx="886.5" cy="671.5" r="4.85"/>
<circle cx="888.5" cy="671.5" r="4.85"/>
<circle cx="890.5" cy="670.5" r="4.85"/>
<circle cx="891.5" cy="670.5" r="4.85"/>
<circle cx="893.5" cy="670.5" r="4.85"/>
<circle cx="895.5" cy="671.5" r="4.85"/>
<circle cx="896.5" cy="670.5" r="4.85"/>
<circle cx="898.5" cy="670.5" r="4.85"/>
<circle cx="900.5" cy="670.5" r="4.85"/>
<circle cx="901.5" cy="670.5" r="4.85"/>
<circle cx="903.5" cy="670.5" r="4.85"/>
<circle cx="905.5" cy="671.5" r="4.85"/>
<circle cx="906.5" cy="670.5" r="4.85"/>
<circle cx="908.5" cy="670.5" r="4.85"/>
<circle cx="910.5" cy="670.5" r="4.85"/>
<circle cx="911.5" cy="670.5" r="4.85"/>
<circle cx="913.5" cy="670.5" r="4.85"/>
<circle cx="914.5" cy="669.5" r="4.85"/>
<circle cx="916.5" cy="669.5" r="4.85"/>
<circle cx="918.5" cy="670.5" r="4.85"/>
<circle cx="919.5" cy="668.5" r="4.85"/>
<circle cx="921.5" cy="669.5" r="4.85"/>
<circle cx="923.5" cy="669.5" r="4.85"/>
<circle cx="924.5" cy="669.5" r="4.85"/>
<circle cx="926.5" cy="669.5" r="4.85"/>
<circle cx="928.5" cy="670.5" r="4.85"/>
<circle cx="929.5" cy="669.5" r="4.85"/>
<circle cx="931.5" cy="669.5" r="4.85"/>
<circle cx="933.5" cy="668.5" r="4.85"/>
<circle cx="934.5" cy="668.5" r="4.85"/>
<circle cx="936.5" cy="668.5" r="4.85"/>
<circle cx="938.5" cy="668.5" r="4.85"/>
<circle cx="939.5" cy="668.5" r="4.85"/>
<circle cx="941.5" cy="668.5" r="4.85"/>
<circle cx="943.5" cy="668.5" r="4.85"/>
<circle cx="944.5" cy="669.5" r="4.85"/>
<circle cx="946.5" cy="668.5" r="4.85"/>
<circle cx="947.5" cy="670.5" r="4.85"/>
<circle cx="949.5" cy="668.5" r="4.85"/>
<circle cx="951.5" cy="670.5" r="4.85"/>
<circle cx="952.5" cy="669.5" r="4.85"/>
<circle cx="954.5" cy="668.5" r="4.85"/>
<circle cx="956.5" cy="670.5" r="4.85"/>
<circle cx="957.5" cy="669.5" r="4.85"/>
<circle cx="959.5" cy="669.5" r="4.85"/>
<circle cx="961.5" cy="670.5" r="4.85"/>
<circle cx="962.5" cy="670.5" r="4.85"/>
<circle cx="964.5" cy="670.5" r="4.85"/>
<circle cx="966.5" cy="670.5" r="4.85"/>
<circle cx="967.5" cy="669.5" r="4.85"/>
<circle cx="969.5" cy="670.5" r="4.85"/>
<circle cx="971.5" cy="668.5" r="4.85"/>
<circle cx="972.5" cy="668.5" r="4.85"/>
<circle cx="974.5" cy="669.5" r="4.85"/>
<circle cx="976.5" cy="668.5" r="4.85"/>
<circle cx="977.5" cy="669.5" r="4.85"/>
<circle cx="979.5" cy="667.5" r="4.85"/>
<circle cx="980.5" cy="668.5" r="4.85"/>
<circle cx="982.5" cy="667.5" r="4.85"/>
<circle cx="984.5" cy="668.5" r="4.85"/>
<circle cx="985.5" cy="668.5" r="4.85"/>
<circle cx="987.5" cy="667.5" r="4.85"/>
<circle cx="989.5" cy="667.5" r="4.85"/>
<circle cx="990.5" cy="668.5" r="4.85"/>
<circle cx="992.5" cy="668.5" r="4.85"/>
<circle cx="994.5" cy="667.5" r="4.85"/>
<circle cx="995.5" cy="668.5" r="4.85"/>
<circle cx="997.5" cy="668.5" r="4.85"/>
<circle cx="999.5" cy="667.5" r="4.85"/>
<circle cx="1000.5" cy="667.5" r="4.85"/>
<circle cx="1002.5" cy="668.5" r="4.85"/>
<circle cx="1004.5" cy="666.5" r="4.85"/>
<circle cx="1005.5" cy="668.5" r="4.85"/>
<circle cx="1007.5" cy="668.5" r="4.85"/>
<circle cx="1009.5" cy="669.5" r="4.85"/>
<circle cx="1010.5" cy="668.5" r="4.85"/>
<circle cx="1012.5" cy="669.5" r="4.85"/>
</g>
<g fill="#00f">
<circle cx="68.5" cy="677.5" r="4.85"/>
<circle cx="70.5" cy="683.5" r="4.85"/>
<circle cx="71.5" cy="692.5" r="4.85"/>
<circle cx="73.5" cy="697.5" r="4.85"/>
<circle cx="75.5" cy="697.5" r="4.85"/>
<circle cx="76.5" cy="694.5" r="4.85"/>
<circle cx="78.5" cy="696.5" r="4.85"/>
<circle cx="80.5" cy="695.5" r="4.85"/>
<circle cx="81.5" cy="695.5" r="4.85"/>
<circle cx="83.5" cy="694.5" r="4.85"/>
<circle cx="85.5" cy="694.5" r="4.85"/>
<circle cx="86.5" cy="692.5" r="4.85"/>
<circle cx="88.5" cy="693.5" r="4.85"/>
<circle cx="89.5" cy="691.5" r="4.85"/>
<circle cx="91.5" cy="690.5" r="4.85"/>
<circle cx="93.5" cy="689.5" r="4.85"/>
<circle cx="94.5" cy="690.5" r="4.85"/>
<circle cx="96.5" cy="690.5" r="4.85"/>
<circle cx="98.5" cy="689.5" r="4.85"/>
<circle cx="99.5" cy="689.5" r="4.85"/>
<circle cx="101.5" cy="687.5" r="4.85"/>
<circle cx="103.5" cy="687.5" r="4.85"/>
<circle cx="104.5" cy="688.5" r="4.85"/>
<circle cx="106.5" cy="688.5" r="4.85"/>
<circle cx="108.5" cy="689.5" r="4.85"/>
<circle cx="109.5" cy="689.5" r="4.85"/>
<circle cx="111.5" cy="688.5" r="4.85"/>
<circle cx="113.5" cy="688.5" r="4.85"/>
<circle cx="114.5" cy="687.5" r="4.85"/>
<circle cx="116.5" cy="687.5" r="4.85"/>
<circle cx="118.5" cy="686.5" r="4.85"/>
<circle cx="119.5" cy="689.5" r="4.85"/>
<circle cx="121.5" cy="688.5" r="4.85"/>
<circle cx="122.5" cy="685.5" r="4.85"/>
<circle cx="124.5" cy="690.5" r="4.85"/>
<circle cx="126.5" cy="689.5" r="4.85"/>
<circle cx="127.5" cy="688.5" r="4.85"/>
<circle cx="129.5" cy="688.5" r="4.85"/>
<circle cx="131.5" cy="687.5" r="4.85"/>
<circle cx="132.5" cy="688.5" r="4.85"/>
<circle cx="134.5" cy="688.5" r="4.85"/>
<circle cx="136.5" cy="688.5" r="4.85"/>
<circle cx="137.5" cy="688.5" r="4.85"/>
<circle cx="139.5" cy="691.5" r="4.85"/>
<circle cx="141.5" cy="690.5" r="4.85"/>
<circle cx="142.5" cy="689.5" r="4.85"/>
<circle cx="144.5" cy="691.5" r="4.85"/>
<circle cx="146.5" cy="691.5" r="4.85"/>
<circle cx="147.5" cy="690.5" r="4.85"/>
<circle cx="149.5" cy="692.5" r="4.85"/>
<circle cx="151.5" cy="692.5" r="4.85"/>
<circle cx="152.5" cy="693.5" r="4.85"/>
<circle cx="154.5" cy="694.5" r="4.85"/>
<circle cx="155.5" cy="694.5" r="4.85"/>
<circle cx="157.5" cy="695.5" r="4.85"/>
<circle cx="159.5" cy="696.5" r="4.85"/>
<circle cx="160.5" cy="694.5" r="4.85"/>
<circle cx="162.5" cy="694.5" r="4.85"/>
<circle cx="164.5" cy="695.5" r="4.85"/>
<circle cx="165.5" cy="694.5" r="4.85"/>
<circle cx="167.5" cy="693.5" r="4.85"/>
<circle cx="169.5" cy="694.5" r="4.85"/>
<circle cx="170.5" cy="692.5" r="4.85"/>
<circle cx="172.5" cy="690.5" r="4.85"/>
<circle cx="174.5" cy="692.5" r="4.85"/>
<circle cx="175.5" cy="691.5" r="4.85"/>
<circle cx="177.5" cy="692.5" r="4.85"/>
<circle cx="179.5" cy="691.5" r="4.85"/>
<circle cx="180.5" cy="694.5" r="4.85"/>
<circle cx="182.5" cy="694.5" r="4.85"/>
<circle cx="184.5" cy="697.5" r="4.85"/>
<circle cx="185.5" cy="696.5" r="4.85"/>
<circle cx="187.5" cy="697.5" r="4.85"/>
<circle cx="188.5" cy="699.5" r="4.85"/>
<circle cx="190.5" cy="696.5" r="4.85"/>
<circle cx="192.5" cy="697.5" r="4.85"/>
<circle cx="193.5" cy="700.5" r="4.85"/>
<circle cx="195.5" cy="697.5" r="4.85"/>
<circle cx="197.5" cy="698.5" r="4.85"/>
<circle cx="198.5" cy="697.5" r="4.85"/>
<circle cx="200.5" cy="697.5" r="4.85"/>
<circle cx="202.5" cy="699.5" r="4.85"/>
<circle cx="203.5" cy="697.5" r="4.85"/>
<circle cx="205.5" cy="695.5" r="4.85"/>
<circle cx="207.5" cy="698.5" r="4.85"/>
<circle cx="208.5" cy="698.5" r="4.85"/>
<circle cx="210.5" cy="699.5" r="4.85"/>
<circle cx="212.5" cy="699.5" r="4.85"/>
<circle cx="213.5" cy="698.5" r="4.85"/>
<circle cx="215.5" cy="696.5" r="4.85"/>
<circle cx="217.5" cy="697.5" r="4.85"/>
<circle cx="218.5" cy="698.5" r="4.85"/>
<circle cx="220.5" cy="695.5" r="4.85"/>
<circle cx="221.5" cy="698.5" r="4.85"/>
<circle cx="223.5" cy="698.5" r="4.85"/>
<circle cx="225.5" cy="697.5" r="4.85"/>
<circle cx="226.5" cy="696.5" r="4.85"/>
<circle cx="228.5" cy="698.5" r="4.85"/>
<circle cx="230.5" cy="698.5" r="4.85"/>
<circle cx="231.5" cy="695.5" r="4.85"/>
<circle cx="233.5" cy="695.5" r="4.85"/>
<circle cx="235.5" cy="697.5" r="4.85"/>
<circle cx="236.5" cy="695.5" r="4.85"/>
<circle cx="238.5" cy="695.5" r="4.85"/>
<circle cx="240.5" cy="693.5" r="4.85"/>
<circle cx="241.5" cy="694.5" r="4.85"/>
<circle cx="243.5" cy="693.5" r="4.85"/>
<circle cx="245.5" cy="693.5" r="4.85"/>
<circle cx="246.5" cy="691.5" r="4.85"/>
<circle cx="248.5" cy="690.5" r="4.85"/>
<circle cx="250.5" cy="691.5" r="4.85"/>
<circle cx="251.5" cy="690.5" r="4.85"/>
<circle cx="253.5" cy="691.5" r="4.85"/>
<circle cx="254.5" cy="690.5" r="4.85"/>
<circle cx="256.5" cy="689.5" r="4.85"/>
<circle cx="258.5" cy="688.5" r="4.85"/>
<circle cx="259.5" cy="690.5" r="4.85"/>
<circle cx="261.5" cy="690.5" r="4.85"/>
<circle cx="263.5" cy="689.5" r="4.85"/>
<circle cx="264.5" cy="691.5" r="4.85"/>
<circle cx="266.5" cy="689.5" r="4.85"/>
<circle cx="268.5" cy="690.5" r="4.85"/>
<circle cx="269.5" cy="688.5" r="4.85"/>
<circle cx="271.5" cy="690.5" r="4.85"/>
<circle cx="273.5" cy="691.5" r="4.85"/>
<circle cx="274.5" cy="688.5" r="4.85"/>
<circle cx="276.5" cy="688.5" r="4.85"/>
<circle cx="278.5" cy="689.5" r="4.85"/>
<circle cx="279.5" cy="687.5" r="4.85"/>
<circle cx="281.5" cy="688.5" r="4.85"/>
<circle cx="283.5" cy="688.5" r="4.85"/>
<circle cx="284.5" cy="687.5" r="4.85"/>
<circle cx="286.5" cy="689.5" r="4.85"/>
<circle cx="287.5" cy="688.5" r="4.85"/>
<circle cx="289.5" cy="687.5" r="4.85"/>
<circle cx="291.5" cy="686.5" r="4.85"/>
<circle cx="292.5" cy="687.5" r="4.85"/>
<circle cx="294.5" cy="686.5" r="4.85"/>
<circle cx="296.5" cy="687.5" r="4.85"/>
<circle cx="297.5" cy="686.5" r="4.85"/>
<circle cx="299.5" cy="684.5" r="4.85"/>
<circle cx="301.5" cy="687.5" r="4.85"/>
<circle cx="302.5" cy="684.5" r="4.85"/>
<circle cx="304.5" cy="688.5" r="4.85"/>
<circle cx="306.5" cy="688.5" r="4.85"/>
<circle cx="307.5" cy="688.5" r="4.85"/>
<circle cx="309.5" cy="687.5" r="4.85"/>
<circle cx="311.5" cy="691.5" r="4.85"/>
<circle cx="312.5" cy="693.5" r="4.85"/>
<circle cx="314.5" cy="691.5" r="4.85"/>
<circle cx="316.5" cy="692.5" r="4.85"/>
<circle cx="317.5" cy="694.5" r="4.85"/>
<circle cx="319.5" cy="693.5" r="4.85"/>
<circle cx="320.5" cy="697.5" r="4.85"/>
<circle cx="322.5" cy="698.5" r="4.85"/>
<circle cx="324.5" cy="698.5" r="4.85"/>
<circle cx="325.5" cy="699.5" r="4.85"/>
<circle cx="327.5" cy="696.5" r="4.85"/>
<circle cx="329.5" cy="698.5" r="4.85"/>
<circle cx="330.5" cy="695.5" r="4.85"/>
<circle cx="332.5" cy="700.5" r="4.85"/>
<circle cx="334.5" cy="692.5" r="4.85"/>
<circle cx="335.5" cy="694.5" r="4.85"/>
<circle cx="337.5" cy="691.5" r="4.85"/>
<circle cx="339.5" cy="688.5" r="4.85"/>
<circle cx="340.5" cy="692.5" r="4.85"/>
<circle cx="342.5" cy="692.5" r="4.85"/>
<circle cx="344.5" cy="692.5" r="4.85"/>
<circle cx="345.5" cy="693.5" r="4.85"/>
<circle cx="347.5" cy="693.5" r="4.85"/>
<circle cx="349.5" cy="691.5" r="4.85"/>
<circle cx="350.5" cy="692.5" r="4.85"/>
<circle cx="352.5" cy="692.5" r="4.85"/>
<circle cx="353.5" cy="693.5" r="4.85"/>
<circle cx="355.5" cy="691.5" r="4.85"/>
<circle cx="357.5" cy="692.5" r="4.85"/>
<circle cx="358.5" cy="693.5" r="4.85"/>
<circle cx="360.5" cy="691.5" r="4.85"/>
<circle cx="362.5" cy="693.5" r="4.85"/>
<circle cx="363.5" cy="694.5" r="4.85"/>
<circle cx="365.5" cy="689.5" r="4.85"/>
<circle cx="367.5" cy="690.5" r="4.85"/>
<circle cx="368.5" cy="693.5" r="4.85"/>
<circle cx="370.5" cy="689.5" r="4.85"/>
<circle cx="372.5" cy="690.5" r="4.85"/>
<circle cx="373.5" cy="694.5" r="4.85"/>
<circle cx="375.5" cy="688.5" r="4.85"/>
<circle cx="377.5" cy="690.5" r="4.85"/>
<circle cx="378.5" cy="689.5" r="4.85"/>
<circle cx="380.5" cy="690.5" r="4.85"/>
<circle cx="382.5" cy="691.5" r="4.85"/>
<circle cx="383.5" cy="694.5" r="4.85"/>
<circle cx="385.5" cy="689.5" r="4.85"/>
<circle cx="386.5" cy="691.5" r="4.85"/>
<circle cx="388.5" cy="691.5" r="4.85"/>
<circle cx="390.5" cy="690.5" r="4.85"/>
<circle cx="391.5" cy="691.5" r="4.85"/>
<circle cx="393.5" cy="689.5" r="4.85"/>
<circle cx="395.5" cy="691.5" r="4.85"/>
<circle cx="396.5" cy="691.5" r="4.85"/>
<circle cx="398.5" cy="695.5" r="4.85"/>
<circle cx="400.5" cy="692.5" r="4.85"/>
<circle cx="401.5" cy="689.5" r="4.85"/>
<circle cx="403.5" cy="688.5" r="4.85"/>
<circle cx="405.5" cy="691.5" r="4.85"/>
<circle cx="406.5" cy="691.5" r="4.85"/>
<circle cx="408.5" cy="688.5" r="4.85"/>
<circle cx="410.5" cy="691.5" r="4.85"/>
<circle cx="411.5" cy="689.5" r="4.85"/>
<circle cx="413.5" cy="687.5" r="4.85"/>
<circle cx="415.5" cy="690.5" r="4.85"/>
<circle cx="416.5" cy="688.5" r="4.85"/>
<circle cx="418.5" cy="692.5" r="4.85"/>
<circle cx="419.5" cy="690.5" r="4.85"/>
<circle cx="421.5" cy="690.5" r="4.85"/>
<circle cx="423.5" cy="690.5" r="4.85"/>
<circle cx="424.5" cy="688.5" r="4.85"/>
<circle cx="426.5" cy="686.5" r="4.85"/>
<circle cx="428.5" cy="692.5" r="4.85"/>
<circle cx="429.5" cy="692.5" r="4.85"/>
<circle cx="431.5" cy="691.5" r="4.85"/>
<circle cx="433.5" cy="694.5" r="4.85"/>
<circle cx="434.5" cy="691.5" r="4.85"/>
<circle cx="436.5" cy="692.5" r="4.85"/>
<circle cx="438.5" cy="694.5" r="4.85"/>
<circle cx="439.5" cy="692.5" r="4.85"/>
<circle cx="441.5" cy="697.5" r="4.85"/>
<circle cx="443.5" cy="693.5" r="4.85"/>
<circle cx="444.5" cy="697.5" r="4.85"/>
<circle cx="446.5" cy="696.5" r="4.85"/>
<circle cx="448.5" cy="695.5" r="4.85"/>
<circle cx="449.5" cy="695.5" r="4.85"/>
<circle cx="451.5" cy="692.5" r="4.85"/>
<circle cx="452.5" cy="694.5" r="4.85"/>
<circle cx="454.5" cy="694.5" r="4.85"/>
<circle cx="456.5" cy="692.5" r="4.85"/>
<circle cx="457.5" cy="690.5" r="4.85"/>
<circle cx="459.5" cy="694.5" r="4.85"/>
<circle cx="461.5" cy="694.5" r="4.85"/>
<circle cx="462.5" cy="693.5" r="4.85"/>
<circle cx="464.5" cy="696.5" r="4.85"/>
<circle cx="466.5" cy="699.5" r="4.85"/>
<circle cx="467.5" cy="690.5" r="4.85"/>
<circle cx="469.5" cy="690.5" r="4.85"/>
<circle cx="471.5" cy="697.5" r="4.85"/>
<circle cx="472.5" cy="692.5" r="4.85"/>
<circle cx="474.5" cy="691.5" r="4.85"/>
<circle cx="476.5" cy="689.5" r="4.85"/>
<circle cx="477.5" cy="690.5" r="4.85"/>
<circle cx="479.5" cy="692.5" r="4.85"/>
<circle cx="481.5" cy="693.5" r="4.85"/>
<circle cx="482.5" cy="691.5" r="4.85"/>
<circle cx="484.5" cy="689.5" r="4.85"/>
<circle cx="485.5" cy="693.5" r="4.85"/>
<circle cx="487.5" cy="693.5" r="4.85"/>
<circle cx="489.5" cy="692.5" r="4.85"/>
<circle cx="490.5" cy="698.5" r="4.85"/>
<circle cx="492.5" cy="697.5" r="4.85"/>
<circle cx="494.5" cy="698.5" r="4.85"/>
<circle cx="495.5" cy="697.5" r="4.85"/>
<circle cx="497.5" cy="700.5" r="4.85"/>
<circle cx="499.5" cy="700.5" r="4.85"/>
<circle cx="500.5" cy="699.5" r="4.85"/>
<circle cx="502.5" cy="699.5" r="4.85"/>
<circle cx="504.5" cy="700.5" r="4.85"/>
<circle cx="505.5" cy="699.5" r="4.85"/>
<circle cx="507.5" cy="698.5" r="4.85"/>
<circle cx="509.5" cy="697.5" r="4.85"/>
<circle cx="510.5" cy="692.5" r="4.85"/>
<circle cx="512.5" cy="698.5" r="4.85"/>
<circle cx="514.5" cy="699.5" r="4.85"/>
<circle cx="515.5" cy="702.5" r="4.85"/>
<circle cx="517.5" cy="696.5" r="4.85"/>
<circle cx="518.5" cy="699.5" r="4.85"/>
<circle cx="520.5" cy="699.5" r="4.85"/>
<circle cx="522.5" cy="698.5" r="4.85"/>
<circle cx="523.5" cy="700.5" r="4.85"/>
<circle cx="525.5" cy="698.5" r="4.85"/>
<circle cx="527.5" cy="698.5" r="4.85"/>
<circle cx="528.5" cy="701.5" r="4.85"/>
<circle cx="530.5" cy="698.5" r="4.85"/>
<circle cx="532.5" cy="696.5" r="4.85"/>
<circle cx="533.5" cy="700.5" r="4.85"/>
<circle cx="535.5" cy="696.5" r="4.85"/>
<circle cx="537.5" cy="697.5" r="4.85"/>
<circle cx="538.5" cy="698.5" r="4.85"/>
<circle cx="540.5" cy="699.5" r="4.85"/>
<circle cx="542.5" cy="698.5" r="4.85"/>
<circle cx="543.5" cy="699.5" r="4.85"/>
<circle cx="545.5" cy="698.5" r="4.85"/>
<circle cx="547.5" cy="699.5" r="4.85"/>
<circle cx="548.5" cy="699.5" r="4.85"/>
<circle cx="550.5" cy="699.5" r="4.85"/>
<circle cx="551.5" cy="699.5" r="4.85"/>
<circle cx="553.5" cy="698.5" r="4.85"/>
<circle cx="555.5" cy="699.5" r="4.85"/>
<circle cx="556.5" cy="699.5" r="4.85"/>
<circle cx="558.5" cy="699.5" r="4.85"/>
<circle cx="560.5" cy="699.5" r="4.85"/>
<circle cx="561.5" cy="699.5" r="4.85"/>
<circle cx="563.5" cy="698.5" r="4.85"/>
<circle cx="565.5" cy="699.5" r="4.85"/>
<circle cx="566.5" cy="699.5" r="4.85"/>
<circle cx="568.5" cy="699.5" r="4.85"/>
<circle cx="570.5" cy="698.5" r="4.85"/>
<circle cx="571.5" cy="699.5" r="4.85"/>
<circle cx="573.5" cy="699.5" r="4.85"/>
<circle cx="575.5" cy="698.5" r="4.85"/>
<circle cx="576.5" cy="699.5" r="4.85"/>
<circle cx="578.5" cy="699.5" r="4.85"/>
<circle cx="580.5" cy="699.5" r="4.85"/>
<circle cx="581.5" cy="699.5" r="4.85"/>
<circle cx="583.5" cy="699.5" r="4.85"/>
<circle cx="584.5" cy="699.5" r="4.85"/>
<circle cx="586.5" cy="699.5" r="4.85"/>
<circle cx="588.5" cy="699.5" r="4.85"/>
<circle cx="589.5" cy="699.5" r="4.85"/>
<circle cx="591.5" cy="699.5" r="4.85"/>
<circle cx="593.5" cy="699.5" r="4.85"/>
<circle cx="594.5" cy="699.5" r="4.85"/>
<circle cx="596.5" cy="699.5" r="4.85"/>
<circle cx="598.5" cy="699.5" r="4.85"/>
<circle cx="599.5" cy="698.5" r="4.85"/>
<circle cx="601.5" cy="699.5" r="4.85"/>
<circle cx="603.5" cy="699.5" r="4.85"/>
<circle cx="604.5" cy="699.5" r="4.85"/>
<circle cx="606.5" cy="698.5" r="4.85"/>
<circle cx="608.5" cy="699.5" r="4.85"/>
<circle cx="609.5" cy="698.5" r="4.85"/>
<circle cx="611.5" cy="699.5" r="4.85"/>
<circle cx="613.5" cy="699.5" r="4.85"/>
<circle cx="614.5" cy="698.5" r="4.85"/>
<circle cx="616.5" cy="699.5" r="4.85"/>
<circle cx="617.5" cy="699.5" r="4.85"/>
<circle cx="619.5" cy="699.5" r="4.85"/>
<circle cx="621.5" cy="699.5" r="4.85"/>
<circle cx="622.5" cy="699.5" r="4.85"/>
<circle cx="624.5" cy="698.5" r="4.85"/>
<circle cx="626.5" cy="699.5" r="4.85"/>
<circle cx="627.5" cy="699.5" r="4.85"/>
<circle cx="629.5" cy="698.5" r="4.85"/>
<circle cx="631.5" cy="699.5" r="4.85"/>
<circle cx="632.5" cy="698.5" r="4.85"/>
<circle cx="634.5" cy="699.5" r="4.85"/>
<circle cx="636.5" cy="699.5" r="4.85"/>
<circle cx="637.5" cy="698.5" r="4.85"/>
<circle cx="639.5" cy="699.5" r="4.85"/>
<circle cx="641.5" cy="699.5" r="4.85"/>
<circle cx="642.5" cy="699.5" r="4.85"/>
<circle cx="644.5" cy="698.5" r="4.85"/>
<circle cx="646.5" cy="699.5" r="4.85"/>
<circle cx="647.5" cy="699.5" r="4.85"/>
<circle cx="649.5" cy="698.5" r="4.85"/>
<circle cx="650.5" cy="699.5" r="4.85"/>
<circle cx="652.5" cy="699.5" r="4.85"/>
<circle cx="654.5" cy="699.5" r="4.85"/>
<circle cx="655.5" cy="699.5" r="4.85"/>
<circle cx="657.5" cy="698.5" r="4.85"/>
<circle cx="659.5" cy="699.5" r="4.85"/>
<circle cx="660.5" cy="698.5" r="4.85"/>
<circle cx="662.5" cy="699.5" r="4.85"/>
<circle cx="664.5" cy="699.5" r="4.85"/>
<circle cx="665.5" cy="699.5" r="4.85"/>
<circle cx="667.5" cy="698.5" r="4.85"/>
<circle cx="669.5" cy="699.5" r="4.85"/>
<circle cx="670.5" cy="699.5" r="4.85"/>
<circle cx="672.5" cy="699.5" r="4.85"/>
<circle cx="674.5" cy="698.5" r="4.85"/>
<circle cx="675.5" cy="699.5" r="4.85"/>
<circle cx="677.5" cy="698.5" r="4.85"/>
<circle cx="679.5" cy="699.5" r="4.85"/>
<circle cx="680.5" cy="699.5" r="4.85"/>
<circle cx="682.5" cy="699.5" r="4.85"/>
<circle cx="683.5" cy="699.5" r="4.85"/>
<circle cx="685.5" cy="699.5" r="4.85"/>
<circle cx="687.5" cy="699.5" r="4.85"/>
<circle cx="688.5" cy="698.5" r="4.85"/>
<circle cx="690.5" cy="699.5" r="4.85"/>
<circle cx="692.5" cy="699.5" r="4.85"/>
<circle cx="693.5" cy="699.5" r="4.85"/>
<circle cx="695.5" cy="698.5" r="4.85"/>
<circle cx="697.5" cy="699.5" r="4.85"/>
<circle cx="698.5" cy="699.5" r="4.85"/>
<circle cx="700.5" cy="699.5" r="4.85"/>
<circle cx="702.5" cy="699.5" r="4.85"/>
<circle cx="703.5" cy="699.5" r="4.85"/>
<circle cx="705.5" cy="699.5" r="4.85"/>
<circle cx="707.5" cy="698.5" r="4.85"/>
<circle cx="708.5" cy="699.5" r="4.85"/>
<circle cx="710.5" cy="699.5" r="4.85"/>
<circle cx="712.5" cy="699.5" r="4.85"/>
<circle cx="713.5" cy="699.5" r="4.85"/>
<circle cx="715.5" cy="699.5" r="4.85"/>
<circle cx="716.5" cy="699.5" r="4.85"/>
<circle cx="718.5" cy="699.5" r="4.85"/>
<circle cx="720.5" cy="699.5" r="4.85"/>
<circle cx="721.5" cy="699.5" r="4.85"/>
<circle cx="723.5" cy="699.5" r="4.85"/>
<circle cx="725.5" cy="699.5" r="4.85"/>
<circle cx="726.5" cy="699.5" r="4.85"/>
<circle cx="728.5" cy="699.5" r="4.85"/>
<circle cx="730.5" cy="699.5" r="4.85"/>
<circle cx="731.5" cy="699.5" r="4.85"/>
<circle cx="733.5" cy="698.5" r="4.85"/>
<circle cx="735.5" cy="699.5" r="4.85"/>
<circle cx="736.5" cy="699.5" r="4.85"/>
<circle cx="738.5" cy="699.5" r="4.85"/>
<circle cx="740.5" cy="699.5" r="4.85"/>
<circle cx="741.5" cy="699.5" r="4.85"/>
<circle cx="743.5" cy="699.5" r="4.85"/>
<circle cx="745.5" cy="699.5" r="4.85"/>
<circle cx="746.5" cy="699.5" r="4.85"/>
<circle cx="748.5" cy="699.5" r="4.85"/>
<circle cx="749.5" cy="699.5" r="4.85"/>
<circle cx="751.5" cy="699.5" r="4.85"/>
<circle cx="753.5" cy="698.5" r="4.85"/>
<circle cx="754.5" cy="699.5" r="4.85"/>
<circle cx="756.5" cy="699.5" r="4.85"/>
<circle cx="758.5" cy="699.5" r="4.85"/>
<circle cx="759.5" cy="699.5" r="4.85"/>
<circle cx="761.5" cy="699.5" r="4.85"/>
<circle cx="763.5" cy="699.5" r="4.85"/>
<circle cx="764.5" cy="699.5" r="4.85"/>
<circle cx="766.5" cy="699.5" r="4.85"/>
<circle cx="768.5" cy="699.5" r="4.85"/>
<circle cx="769.5" cy="699.5" r="4.85"/>
<circle cx="771.5" cy="699.5" r="4.85"/>
<circle cx="773.5" cy="699.5" r="4.85"/>
<circle cx="774.5" cy="699.5" r="4.85"/>
<circle cx="776.5" cy="698.5" r="4.85"/>
<circle cx="778.5" cy="699.5" r="4.85"/>
<circle cx="779.5" cy="699.5" r="4.85"/>
<circle cx="781.5" cy="699.5" r="4.85"/>
<circle cx="782.5" cy="698.5" r="4.85"/>
<circle cx="784.5" cy="698.5" r="4.85"/>
<circle cx="786.5" cy="699.5" r="4.85"/>
<circle cx="787.5" cy="699.5" r="4.85"/>
<circle cx="789.5" cy="699.5" r="4.85"/>
<circle cx="791.5" cy="699.5" r="4.85"/>
<circle cx="792.5" cy="699.5" r="4.85"/>
<circle cx="794.5" cy="699.5" r="4.85"/>
<circle cx="796.5" cy="698.5" r="4.85"/>
<circle cx="797.5" cy="699.5" r="4.85"/>
<circle cx="799.5" cy="699.5" r="4.85"/>
<circle cx="801.5" cy="699.5" r="4.85"/>
<circle cx="802.5" cy="699.5" r="4.85"/>
<circle cx="804.5" cy="699.5" r="4.85"/>
<circle cx="806.5" cy="699.5" r="4.85"/>
<circle cx="807.5" cy="699.5" r="4.85"/>
<circle cx="809.5" cy="699.5" r="4.85"/>
<circle cx="811.5" cy="699.5" r="4.85"/>
<circle cx="812.5" cy="699.5" r="4.85"/>
<circle cx="814.5" cy="699.5" r="4.85"/>
<circle cx="815.5" cy="699.5" r="4.85"/>
<circle cx="817.5" cy="699.5" r="4.85"/>
<circle cx="819.5" cy="699.5" r="4.85"/>
<circle cx="820.5" cy="699.5" r="4.85"/>
<circle cx="822.5" cy="698.5" r="4.85"/>
<circle cx="824.5" cy="698.5" r="4.85"/>
<circle cx="825.5" cy="699.5" r="4.85"/>
<circle cx="827.5" cy="699.5" r="4.85"/>
<circle cx="829.5" cy="698.5" r="4.85"/>
<circle cx="830.5" cy="698.5" r="4.85"/>
<circle cx="832.5" cy="698.5" r="4.85"/>
<circle cx="834.5" cy="699.5" r="4.85"/>
<circle cx="835.5" cy="699.5" r="4.85"/>
<circle cx="837.5" cy="699.5" r="4.85"/>
<circle cx="839.5" cy="698.5" r="4.85"/>
<circle cx="840.5" cy="699.5" r="4.85"/>
<circle cx="842.5" cy="699.5" r="4.85"/>
<circle cx="844.5" cy="699.5" r="4.85"/>
<circle cx="845.5" cy="698.5" r="4.85"/>
<circle cx="847.5" cy="698.5" r="4.85"/>
<circle cx="848.5" cy="699.5" r="4.85"/>
<circle cx="850.5" cy="699.5" r="4.85"/>
<circle cx="852.5" cy="699.5" r="4.85"/>
<circle cx="853.5" cy="699.5" r="4.85"/>
<circle cx="855.5" cy="698.5" r="4.85"/>
<circle cx="857.5" cy="699.5" r="4.85"/>
<circle cx="858.5" cy="699.5" r="4.85"/>
<circle cx="860.5" cy="698.5" r="4.85"/>
<circle cx="862.5" cy="699.5" r="4.85"/>
<circle cx="863.5" cy="699.5" r="4.85"/>
<circle cx="865.5" cy="699.5" r="4.85"/>
<circle cx="867.5" cy="699.5" r="4.85"/>
<circle cx="868.5" cy="699.5" r="4.85"/>
<circle cx="870.5" cy="699.5" r="4.85"/>
<circle cx="872.5" cy="699.5" r="4.85"/>
<circle cx="873.5" cy="699.5" r="4.85"/>
<circle cx="875.5" cy="699.5" r="4.85"/>
<circle cx="877.5" cy="699.5" r="4.85"/>
<circle cx="878.5" cy="699.5" r="4.85"/>
<circle cx="880.5" cy="699.5" r="4.85"/>
<circle cx="881.5" cy="699.5" r="4.85"/>
<circle cx="883.5" cy="699.5" r="4.85"/>
<circle cx="885.5" cy="699.5" r="4.85"/>
<circle cx="886.5" cy="699.5" r="4.85"/>
<circle cx="888.5" cy="699.5" r="4.85"/>
<circle cx="890.5" cy="699.5" r="4.85"/>
<circle cx="891.5" cy="699.5" r="4.85"/>
<circle cx="893.5" cy="699.5" r="4.85"/>
<circle cx="895.5" cy="699.5" r="4.85"/>
<circle cx="896.5" cy="699.5" r="4.85"/>
<circle cx="898.5" cy="698.5" r="4.85"/>
<circle cx="900.5" cy="699.5" r="4.85"/>
<circle cx="901.5" cy="698.5" r="4.85"/>
<circle cx="903.5" cy="698.5" r="4.85"/>
<circle cx="905.5" cy="698.5" r="4.85"/>
<circle cx="906.5" cy="696.5" r="4.85"/>
<circle cx="908.5" cy="698.5" r="4.85"/>
<circle cx="910.5" cy="696.5" r="4.85"/>
<circle cx="911.5" cy="695.5" r="4.85"/>
<circle cx="913.5" cy="694.5" r="4.85"/>
<circle cx="914.5" cy="690.5" r="4.85"/>
<circle cx="916.5" cy="689.5" r="4.85"/>
<circle cx="918.5" cy="692.5" r="4.85"/>
<circle cx="919.5" cy="691.5" r="4.85"/>
<circle cx="921.5" cy="689.5" r="4.85"/>
<circle cx="923.5" cy="690.5" r="4.85"/>
<circle cx="924.5" cy="688.5" r="4.85"/>
<circle cx="926.5" cy="694.5" r="4.85"/>
<circle cx="928.5" cy="693.5" r="4.85"/>
<circle cx="929.5" cy="692.5" r="4.85"/>
<circle cx="931.5" cy="691.5" r="4.85"/>
<circle cx="933.5" cy="694.5" r="4.85"/>
<circle cx="934.5" cy="697.5" r="4.85"/>
<circle cx="936.5" cy="697.5" r="4.85"/>
<circle cx="938.5" cy="697.5" r="4.85"/>
<circle cx="939.5" cy="696.5" r="4.85"/>
<circle cx="941.5" cy="691.5" r="4.85"/>
<circle cx="943.5" cy="694.5" r="4.85"/>
<circle cx="944.5" cy="692.5" r="4.85"/>
<circle cx="946.5" cy="688.5" r="4.85"/>
<circle cx="947.5" cy="690.5" r="4.85"/>
<circle cx="949.5" cy="691.5" r="4.85"/>
<circle cx="951.5" cy="693.5" r="4.85"/>
<circle cx="952.5" cy="691.5" r="4.85"/>
<circle cx="954.5" cy="689.5" r="4.85"/>
<circle cx="956.5" cy="691.5" r="4.85"/>
<circle cx="957.5" cy="689.5" r="4.85"/>
<circle cx="959.5" cy="692.5" r="4.85"/>
<circle cx="961.5" cy="690.5" r="4.85"/>
<circle cx="962.5" cy="692.5" r="4.85"/>
<circle cx="964.5" cy="690.5" r="4.85"/>
<circle cx="966.5" cy="688.5" r="4.85"/>
<circle cx="967.5" cy="693.5" r="4.85"/>
<circle cx="969.5" cy="690.5" r="4.85"/>
<circle cx="971.5" cy="689.5" r="4.85"/>
<circle cx="972.5" cy="690.5" r="4.85"/>
<circle cx="974.5" cy="690.5" r="4.85"/>
<circle cx="976.5" cy="688.5" r="4.85"/>
<circle cx="977.5" cy="686.5" r="4.85"/>
<circle cx="979.5" cy="689.5" r="4.85"/>
<circle cx="980.5" cy="691.5" r="4.85"/>
<circle cx="982.5" cy="695.5" r="4.85"/>
<circle cx="984.5" cy="689.5" r="4.85"/>
<circle cx="985.5" cy="693.5" r="4.85"/>
<circle cx="987.5" cy="694.5" r="4.85"/>
<circle cx="989.5" cy="697.5" r="4.85"/>
<circle cx="990.5" cy="695.5" r="4.85"/>
<circle cx="992.5" cy="698.5" r="4.85"/>
<circle cx="994.5" cy="695.5" r="4.85"/>
<circle cx="995.5" cy="694.5" r="4.85"/>
<circle cx="997.5" cy="695.5" r="4.85"/>
<circle cx="999.5" cy="694.5" r="4.85"/>
<circle cx="1000.5" cy="697.5" r="4.85"/>
<circle cx="1002.5" cy="691.5" r="4.85"/>
<circle cx="1004.5" cy="697.5" r="4.85"/>
<circle cx="1005.5" cy="699.5" r="4.85"/>
<circle cx="1007.5" cy="694.5" r="4.85"/>
<circle cx="1009.5" cy="696.5" r="4.85"/>
<circle cx="1010.5" cy="696.5" r="4.85"/>
<circle cx="1012.5" cy="694.5" r="4.85"/>
</g>
</g>
<rect x="68.5" y="89.5" width="945.0" height="614.0" fill="none" stroke="#000" stroke-width="1"/>
<g stroke="#000" stroke-width="1">
<path d="M63.20 703.50H68.5M1013.5 703.50H1018.80"/>
<path d="M63.20 641.50H68.5M1013.5 641.50H1018.80"/>
<path d="M63.20 580.50H68.5M1013.5 580.50H1018.80"/>
<path d="M63.20 519.50H68.5M1013.5 519.50H1018.80"/>
<path d="M63.20 457.50H68.5M1013.5 457.50H1018.80"/>
<path d="M63.20 396.50H68.5M1013.5 396.50H1018.80"/>
<path d="M63.20 334.50H68.5M1013.5 334.50H1018.80"/>
<path d="M63.20 273.50H68.5M1013.5 273.50H1018.80"/>
<path d="M63.20 211.50H68.5M1013.5 211.50H1018.80"/>
<path d="M63.20 150.50H68.5M1013.5 150.50H1018.80"/>
<path d="M63.20 89.50H68.5M1013.5 89.50H1018.80"/>
<path d="M305.50 703.5V708.80"/>
</g>
<g stroke="#000" stroke-width="0.9">
<path d="M68.50 703.5V706.70"/>
<path d="M147.50 703.5V706.70"/>
<path d="M226.50 703.5V706.70"/>
<path d="M385.50 703.5V706.70"/>
<path d="M464.50 703.5V706.70"/>
<path d="M543.50 703.5V706.70"/>
<path d="M622.50 703.5V706.70"/>
<path d="M701.50 703.5V706.70"/>
<path d="M781.50 703.5V706.70"/>
<path d="M860.50 703.5V706.70"/>
<path d="M939.50 703.5V706.70"/>
</g>
<g>
<text x="47.51" y="709.80" font-size="18.70" textLength="10.59" lengthAdjust="spacingAndGlyphs" fill="#000" stroke="#000" stroke-width="0.30">0</text>
<text x="1022.95" y="709.80" font-size="18.70" textLength="10.59" lengthAdjust="spacingAndGlyphs" fill="#000" stroke="#000" stroke-width="0.30">0</text>
<text x="47.66" y="647.80" font-size="18.70" textLength="10.11" lengthAdjust="spacingAndGlyphs" fill="#000" stroke="#000" stroke-width="0.30">1</text>
<text x="1023.10" y="647.80" font-size="18.70" textLength="10.11" lengthAdjust="spacingAndGlyphs" fill="#000" stroke="#000" stroke-width="0.30">1</text>
<text x="47.46" y="586.80" font-size="18.70" textLength="10.21" lengthAdjust="spacingAndGlyphs" fill="#000" stroke="#000" stroke-width="0.30">2</text>
<text x="1022.90" y="586.80" font-size="18.70" textLength="10.21" lengthAdjust="spacingAndGlyphs" fill="#000" stroke="#000" stroke-width="0.30">2</text>
<text x="47.74" y="525.80" font-size="18.70" textLength="10.17" lengthAdjust="spacingAndGlyphs" fill="#000" stroke="#000" stroke-width="0.30">3</text>
<text x="1023.18" y="525.80" font-size="18.70" textLength="10.17" lengthAdjust="spacingAndGlyphs" fill="#000" stroke="#000" stroke-width="0.30">3</text>
<text x="47.50" y="463.80" font-size="18.70" textLength="10.59" lengthAdjust="spacingAndGlyphs" fill="#000" stroke="#000" stroke-width="0.30">4</text>
<text x="1022.94" y="463.80" font-size="18.70" textLength="10.59" lengthAdjust="spacingAndGlyphs" fill="#000" stroke="#000" stroke-width="0.30">4</text>
<text x="47.73" y="402.80" font-size="18.70" textLength="9.99" lengthAdjust="spacingAndGlyphs" fill="#000" stroke="#000" stroke-width="0.30">5</text>
<text x="1023.17" y="402.80" font-size="18.70" textLength="9.99" lengthAdjust="spacingAndGlyphs" fill="#000" stroke="#000" stroke-width="0.30">5</text>
<text x="47.32" y="340.80" font-size="18.70" textLength="10.96" lengthAdjust="spacingAndGlyphs" fill="#000" stroke="#000" stroke-width="0.30">6</text>
<text x="1022.76" y="340.80" font-size="18.70" textLength="10.96" lengthAdjust="spacingAndGlyphs" fill="#000" stroke="#000" stroke-width="0.30">6</text>
<text x="47.59" y="279.80" font-size="18.70" textLength="10.36" lengthAdjust="spacingAndGlyphs" fill="#000" stroke="#000" stroke-width="0.30">7</text>
<text x="1023.03" y="279.80" font-size="18.70" textLength="10.36" lengthAdjust="spacingAndGlyphs" fill="#000" stroke="#000" stroke-width="0.30">7</text>
<text x="47.45" y="217.80" font-size="18.70" textLength="10.70" lengthAdjust="spacingAndGlyphs" fill="#000" stroke="#000" stroke-width="0.30">8</text>
<text x="1022.89" y="217.80" font-size="18.70" textLength="10.70" lengthAdjust="spacingAndGlyphs" fill="#000" stroke="#000" stroke-width="0.30">8</text>
<text x="47.28" y="156.80" font-size="18.70" textLength="10.94" lengthAdjust="spacingAndGlyphs" fill="#000" stroke="#000" stroke-width="0.30">9</text>
<text x="1022.72" y="156.80" font-size="18.70" textLength="10.94" lengthAdjust="spacingAndGlyphs" fill="#000" stroke="#000" stroke-width="0.30">9</text>
<text x="35.24" y="95.80" font-size="18.70" textLength="22.09" lengthAdjust="spacingAndGlyphs" fill="#000" stroke="#000" stroke-width="0.30">10</text>
<text x="1023.47" y="95.80" font-size="18.70" textLength="22.09" lengthAdjust="spacingAndGlyphs" fill="#000" stroke="#000" stroke-width="0.30">10</text>
<text x="56.50" y="725.80" font-size="20.00" textLength="22.94" lengthAdjust="spacingAndGlyphs" fill="#000" stroke="#000" stroke-width="0.32">18</text>
<text x="135.31" y="725.80" font-size="20.00" textLength="23.08" lengthAdjust="spacingAndGlyphs" fill="#000" stroke="#000" stroke-width="0.32">20</text>
<text x="214.33" y="725.80" font-size="20.00" textLength="22.61" lengthAdjust="spacingAndGlyphs" fill="#000" stroke="#000" stroke-width="0.32">22</text>
<text x="373.42" y="725.80" font-size="20.00" textLength="22.52" lengthAdjust="spacingAndGlyphs" fill="#000" stroke="#000" stroke-width="0.32">02</text>
<text x="452.41" y="725.80" font-size="20.00" textLength="22.98" lengthAdjust="spacingAndGlyphs" fill="#000" stroke="#000" stroke-width="0.32">04</text>
<text x="531.40" y="725.80" font-size="20.00" textLength="23.16" lengthAdjust="spacingAndGlyphs" fill="#000" stroke="#000" stroke-width="0.32">06</text>
<text x="610.40" y="725.80" font-size="20.00" textLength="23.04" lengthAdjust="spacingAndGlyphs" fill="#000" stroke="#000" stroke-width="0.32">08</text>
<text x="689.50" y="725.80" font-size="20.00" textLength="22.88" lengthAdjust="spacingAndGlyphs" fill="#000" stroke="#000" stroke-width="0.32">10</text>
<text x="769.53" y="725.80" font-size="20.00" textLength="22.40" lengthAdjust="spacingAndGlyphs" fill="#000" stroke="#000" stroke-width="0.32">12</text>
<text x="848.50" y="725.80" font-size="20.00" textLength="22.88" lengthAdjust="spacingAndGlyphs" fill="#000" stroke="#000" stroke-width="0.32">14</text>
<text x="927.49" y="725.80" font-size="20.00" textLength="23.07" lengthAdjust="spacingAndGlyphs" fill="#000" stroke="#000" stroke-width="0.32">16</text>
<text x="274.71" y="727.10" font-size="18.40" textLength="61.22" lengthAdjust="spacingAndGlyphs" fill="#000" stroke="#000" stroke-width="0.29">Feb-08</text>
</g>
<text y="35.70" font-size="35.00" fill="#000" stroke="#000" stroke-width="0.56"><tspan x="184.39" textLength="131.57" lengthAdjust="spacingAndGlyphs">Suffern,</tspan> <tspan x="327.05" textLength="45.59" lengthAdjust="spacingAndGlyphs">NY</tspan> <tspan x="383.29" textLength="108.50" lengthAdjust="spacingAndGlyphs">(SUFF)</tspan> <tspan x="503.40" textLength="130.01" lengthAdjust="spacingAndGlyphs">Derived</tspan> <tspan x="645.11" textLength="85.19" lengthAdjust="spacingAndGlyphs">MWR</tspan> <tspan x="740.56" textLength="144.97" lengthAdjust="spacingAndGlyphs">Products</tspan></text>
<text y="80.60" font-size="29.20" fill="#000" stroke="#000" stroke-width="0.47"><tspan x="292.77" textLength="34.02" lengthAdjust="spacingAndGlyphs">18</tspan> <tspan x="336.50" textLength="55.85" lengthAdjust="spacingAndGlyphs">UTC</tspan> <tspan x="402.23" textLength="123.43" lengthAdjust="spacingAndGlyphs">02/07/20</tspan> <tspan x="535.12" textLength="9.96" lengthAdjust="spacingAndGlyphs">-</tspan> <tspan x="554.64" textLength="34.02" lengthAdjust="spacingAndGlyphs">18</tspan> <tspan x="598.37" textLength="55.85" lengthAdjust="spacingAndGlyphs">UTC</tspan> <tspan x="664.10" textLength="123.43" lengthAdjust="spacingAndGlyphs">02/08/20</tspan></text>
<text y="751.40" font-size="21.90" fill="#000" stroke="#000" stroke-width="0.35"><tspan x="481.97" textLength="52.06" lengthAdjust="spacingAndGlyphs">Time</tspan> <tspan x="541.18" textLength="57.73" lengthAdjust="spacingAndGlyphs">(UTC)</tspan></text>
<text transform="translate(24.90,481.10) rotate(-90)" y="0.00" font-size="21.90" fill="#000" stroke="#000" stroke-width="0.35"><tspan x="-1.15" textLength="59.32" lengthAdjust="spacingAndGlyphs">Cloud</tspan> <tspan x="65.49" textLength="50.60" lengthAdjust="spacingAndGlyphs">Base</tspan> <tspan x="123.17" textLength="48.23" lengthAdjust="spacingAndGlyphs">(km)</tspan></text>
<text transform="translate(1066.60,619.90) rotate(-90)" y="0.00" font-size="21.90" fill="#000" stroke="#000" stroke-width="0.35"><tspan x="-2.23" textLength="108.99" lengthAdjust="spacingAndGlyphs">Integrated</tspan> <tspan x="113.83" textLength="89.96" lengthAdjust="spacingAndGlyphs">Moisture</tspan> <tspan x="210.77" textLength="48.26" lengthAdjust="spacingAndGlyphs">(mm</tspan> <tspan x="266.17" textLength="56.36" lengthAdjust="spacingAndGlyphs">liquid</tspan> <tspan x="330.23" textLength="5.54" lengthAdjust="spacingAndGlyphs">|</tspan> <tspan x="343.28" textLength="31.39" lengthAdjust="spacingAndGlyphs">cm</tspan> <tspan x="382.05" textLength="66.91" lengthAdjust="spacingAndGlyphs">vapor)</tspan></text>
<rect x="766.5" y="98.6" width="237" height="91.5" rx="3.3" ry="3.3" fill="#fff" fill-opacity="0.8" stroke="#ccc" stroke-width="1.11"/>
<circle cx="794.6" cy="116.3" r="5" fill="#000"/>
<circle cx="794.6" cy="144.9" r="5" fill="#f00"/>
<circle cx="794.6" cy="173.4" r="5" fill="#00f"/>
<text y="120.90" font-size="20.40" fill="#000" stroke="#000" stroke-width="0.33"><tspan x="829.33" textLength="55.04" lengthAdjust="spacingAndGlyphs">Cloud</tspan> <tspan x="891.17" textLength="46.95" lengthAdjust="spacingAndGlyphs">Base</tspan></text>
<text y="149.90" font-size="20.40" fill="#000" stroke="#000" stroke-width="0.33"><tspan x="829.12" textLength="101.60" lengthAdjust="spacingAndGlyphs">Integrated</tspan> <tspan x="937.26" textLength="57.70" lengthAdjust="spacingAndGlyphs">Vapor</tspan></text>
<text y="178.70" font-size="20.40" fill="#000" stroke="#000" stroke-width="0.33"><tspan x="829.11" textLength="101.77" lengthAdjust="spacingAndGlyphs">Integrated</tspan> <tspan x="937.50" textLength="58.21" lengthAdjust="spacingAndGlyphs">Liquid</tspan></text>
<path fill="#eea90c" d="M986.0 754.6L990.6 750.6L992.6 748.3L991.4 746.0L991.2 744.6L994.6 743.4L999.2 744.0L1004.9 744.3L1007.7 743.2L1010.0 741.4L1009.7 739.7L1008.9 738.3L1009.5 737.2L1011.7 736.0L1013.2 734.0L1013.5 732.0L1015.8 730.3L1018.6 729.9L1028.2 729.9L1028.5 732.3L1029.0 734.6L1028.5 737.4L1028.6 739.7L1029.4 742.6L1029.6 746.0L1029.0 750.0L1028.6 753.5L1028.1 758.0L1027.9 762.6L1027.2 765.5L1026.1 766.0L1024.9 764.3L1022.0 762.6L1018.6 760.3L1016.3 757.8L1015.2 756.6L986.0 756.2Z"/>
<path fill="#eea90c" fill-opacity="0.8" d="M1023.2 769.5L1025.5 766.6L1027.8 766.0L1032.3 764.9L1036.9 763.2L1038.6 763.8L1035.8 765.5L1031.2 766.9L1026.6 768.6L1023.8 769.8Z"/>
<text x="1007.69" y="754.90" font-size="15.60" textLength="18.66" lengthAdjust="spacingAndGlyphs" fill="#fff" font-weight="bold" stroke="#fff" stroke-width="0.7">NYS</text>
<text x="1030.49" y="754.90" font-size="15.60" textLength="43.14" lengthAdjust="spacingAndGlyphs" fill="#4a2a6b" font-weight="bold" stroke="#4a2a6b" stroke-width="0.7">Mesonet</text>
<text x="1030.79" y="759.90" font-size="3.70" textLength="42.97" lengthAdjust="spacingAndGlyphs" fill="#4a2a6b" font-weight="bold">UNIVERSITY AT ALBANY</text>
</svg>
</body></html>
